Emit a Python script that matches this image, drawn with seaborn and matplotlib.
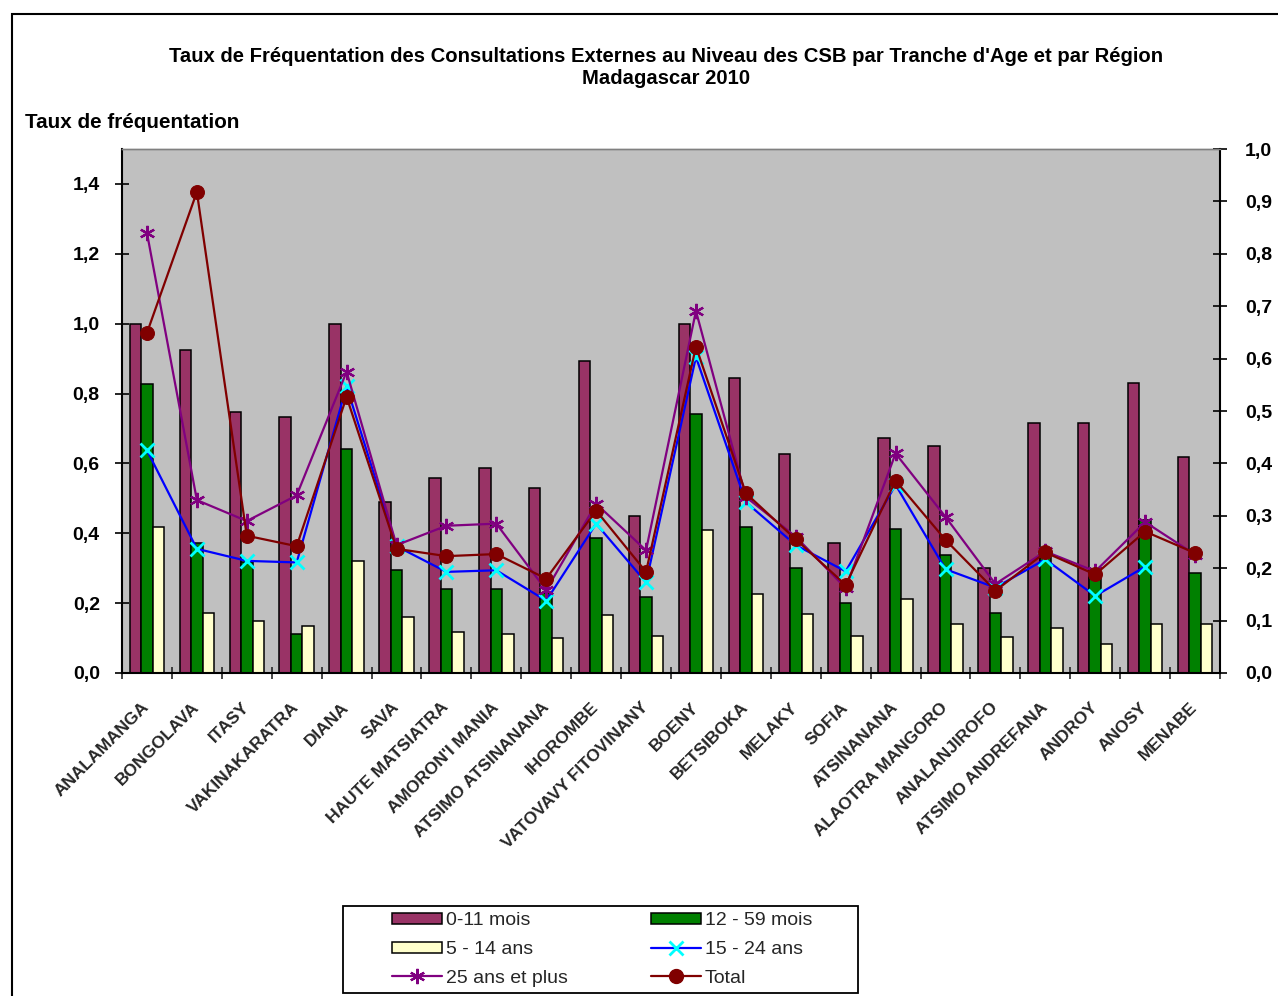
import numpy as np
import pandas as pd
import matplotlib
matplotlib.use("Agg")
import matplotlib.pyplot as plt
import seaborn as sns
from matplotlib.ticker import FuncFormatter, FixedLocator
from matplotlib.patches import Rectangle, Patch
from matplotlib.lines import Line2D

regions = ["ANALAMANGA", "BONGOLAVA", "ITASY", "VAKINAKARATRA", "DIANA", "SAVA",
           "HAUTE MATSIATRA", "AMORON'I MANIA", "ATSIMO ATSINANANA", "IHOROMBE",
           "VATOVAVY FITOVINANY", "BOENY", "BETSIBOKA", "MELAKY", "SOFIA", "ATSINANANA",
           "ALAOTRA MANGORO", "ANALANJIROFO", "ATSIMO ANDREFANA", "ANDROY", "ANOSY", "MENABE"]

m0_11 = [1.00, 0.925, 0.747, 0.732, 1.00, 0.49, 0.559, 0.587, 0.531, 0.893, 0.45,
         1.00, 0.844, 0.628, 0.371, 0.673, 0.651, 0.301, 0.716, 0.716, 0.829, 0.618]
m12_59 = [0.828, 0.371, 0.317, 0.112, 0.64, 0.294, 0.24, 0.24, 0.23, 0.386, 0.218,
          0.742, 0.419, 0.30, 0.201, 0.413, 0.338, 0.173, 0.331, 0.274, 0.439, 0.286]
a5_14 = [0.419, 0.171, 0.148, 0.134, 0.322, 0.16, 0.116, 0.112, 0.101, 0.165, 0.107,
         0.408, 0.225, 0.17, 0.107, 0.213, 0.139, 0.104, 0.129, 0.082, 0.141, 0.141]
a15_24 = [0.425, 0.237, 0.214, 0.211, 0.547, 0.242, 0.193, 0.196, 0.138, 0.285, 0.173,
          0.603, 0.326, 0.244, 0.194, 0.359, 0.198, 0.163, 0.217, 0.147, 0.203, np.nan]
a25p = [0.84, 0.33, 0.29, 0.339, 0.575, 0.244, 0.281, 0.285, 0.158, 0.323, 0.234,
        0.691, 0.336, 0.26, 0.162, 0.419, 0.298, 0.17, 0.232, 0.194, 0.288, 0.226]
total = [0.649, 0.918, 0.262, 0.242, 0.527, 0.237, 0.223, 0.227, 0.18, 0.31, 0.193,
         0.623, 0.343, 0.255, 0.168, 0.367, 0.254, 0.157, 0.23, 0.188, 0.27, 0.229]

bar_series = ["0-11 mois", "12 - 59 mois", "5 - 14 ans"]
line_series = ["15 - 24 ans", "25 ans et plus", "Total"]
title_l1 = "Taux de Fréquentation des Consultations Externes au Niveau des CSB par Tranche d'Age et par Région"
title_l2 = "Madagascar 2010"
ylabel = "Taux de fréquentation"
left_ticks = [0.0, 0.2, 0.4, 0.6, 0.8, 1.0, 1.2, 1.4]
right_ticks = [0.0, 0.1, 0.2, 0.3, 0.4, 0.5, 0.6, 0.7, 0.8, 0.9, 1.0]

bar_colors = ["#993366", "#008000", "#FFFFCC"]

sns.set_theme(style="white")
plt.rcParams['font.family'] = ['Liberation Sans', 'DejaVu Sans']

W, H = 1278, 996
fig = plt.figure(figsize=(W / 100, H / 100), dpi=100)
ax = fig.add_axes([122 / W, 1 - 673 / H, (1220 - 122) / W, (673 - 149) / H])

df = pd.DataFrame({
    "Région": regions * 3,
    "Tranche": [bar_series[0]] * len(regions) + [bar_series[1]] * len(regions) + [bar_series[2]] * len(regions),
    "Taux": m0_11 + m12_59 + a5_14,
})
sns.barplot(data=df, x="Région", y="Taux", hue="Tranche", hue_order=bar_series,
            palette=bar_colors, width=0.69, edgecolor="black", linewidth=1.1,
            saturation=1, errorbar=None, legend=False, ax=ax)

ax.set_facecolor("#C0C0C0")
ax.set_ylim(0, 1.5)
ax.set_xlabel("")
ax.set_ylabel("")

ax2 = ax.twinx()
xpos = np.arange(len(regions))
sns.lineplot(x=xpos, y=a15_24, ax=ax2, color="#0000FF", lw=1.6, marker="x",
             markersize=10, markeredgecolor="#00FFFF", markeredgewidth=2.0, sort=False)
sns.lineplot(x=xpos, y=a25p, ax=ax2, color="#800080", lw=1.6, marker=(6, 2, 0),
             markersize=11, markeredgecolor="#800080", markeredgewidth=1.6, sort=False)
sns.lineplot(x=xpos, y=total, ax=ax2, color="#800000", lw=1.6, marker="o",
             markersize=10, markeredgecolor="#800000", markerfacecolor="#800000", sort=False)
ax2.set_ylim(0, 1.0)
ax2.set_xlim(-0.5, len(regions) - 0.5)
ax.set_xlim(-0.5, len(regions) - 0.5)
ax2.set_xlabel("")
ax2.set_ylabel("")

fmt = FuncFormatter(lambda v, p: f"{v:.1f}".replace(".", ","))
ax.yaxis.set_major_locator(FixedLocator(left_ticks))
ax.yaxis.set_major_formatter(fmt)
ax2.yaxis.set_major_locator(FixedLocator(right_ticks))
ax2.yaxis.set_major_formatter(fmt)

ax.tick_params(axis="y", which="major", left=True, direction="inout", length=10, width=1.2,
               pad=11, labelsize=14, colors="black")
ax2.tick_params(axis="y", which="major", right=True, direction="inout", length=10, width=1.2,
                pad=13, labelsize=14, colors="black")
for lab in ax.get_yticklabels() + ax2.get_yticklabels():
    lab.set_fontweight("bold")

ax.set_xticks(xpos)
ax.set_xticklabels(regions)
ax.xaxis.set_minor_locator(FixedLocator(np.arange(-0.5, len(regions), 1.0)))
ax.tick_params(axis="x", which="major", bottom=True, length=0, pad=23, labelsize=12.5)
ax.tick_params(axis="x", which="minor", bottom=True, direction="inout", length=8, width=1.2)
for lab in ax.get_xticklabels():
    lab.set_rotation(45)
    lab.set_ha("right")
    lab.set_va("center")
    lab.set_rotation_mode("anchor")
    lab.set_fontweight("bold")
ax2.tick_params(axis="x", which="both", bottom=False, top=False, labelbottom=False)

for a in (ax, ax2):
    a.spines["top"].set_color("#808080")
    a.spines["top"].set_linewidth(1.0)
ax.spines["left"].set_color("black"); ax.spines["left"].set_linewidth(1.5)
ax.spines["bottom"].set_color("black"); ax.spines["bottom"].set_linewidth(1.5)
ax.spines["right"].set_visible(False)
ax2.spines["right"].set_color("black"); ax2.spines["right"].set_linewidth(1.5)
ax2.spines["left"].set_visible(False)
ax2.spines["bottom"].set_visible(False)

# Titles, fitted to the reference widths
fig.canvas.draw()
renderer = fig.canvas.get_renderer()

def fitted_text(x, y, s, target_w, ha="center", size=12):
    t = fig.text(x / W, 1 - y / H, s, ha=ha, va="center", fontsize=size, fontweight="bold", color="black")
    w = t.get_window_extent(renderer).width
    t.set_fontsize(size * target_w / w)
    return t

t1 = fitted_text(666.5, 57, title_l1, 989)
t2 = fig.text(666.5 / W, 1 - 79 / H, title_l2, ha="center", va="center", fontweight="bold", color="black")
t2.set_fontsize(t1.get_fontsize())
fitted_text(25, 122, ylabel, 213, ha="left")

# Legend
handles = [Patch(facecolor=bar_colors[0], edgecolor="black", linewidth=1.1),
           Patch(facecolor=bar_colors[2], edgecolor="black", linewidth=1.1),
           Line2D([], [], color="#800080", lw=1.6, marker=(6, 2, 0), markersize=11, markeredgecolor="#800080", markeredgewidth=1.6),
           Patch(facecolor=bar_colors[1], edgecolor="black", linewidth=1.1),
           Line2D([], [], color="#0000FF", lw=1.6, marker="x", markersize=10, markeredgecolor="#00FFFF", markeredgewidth=2.0),
           Line2D([], [], color="#800000", lw=1.6, marker="o", markersize=10, markeredgecolor="#800000", markerfacecolor="#800000")]
labels = [bar_series[0], bar_series[2], line_series[1], bar_series[1], line_series[0], line_series[2]]
fig.legend(handles, labels, loc="center", bbox_to_anchor=(602 / W, 1 - 949.5 / H), ncol=2,
           frameon=False, fontsize=14, handlelength=2.58, handleheight=0.5, handletextpad=0.2,
           columnspacing=4.3, labelspacing=0.6, borderpad=0.2)
fig.add_artist(Rectangle((343 / W, 1 - 993 / H), (858 - 343) / W, (993 - 906) / H,
                         transform=fig.transFigure, fill=False, edgecolor="black", linewidth=1.3))

# Outer chart border (partially cropped in the reference)
fig.add_artist(Rectangle((12 / W, -0.2), 1.2, 1.2 - 14 / H, transform=fig.transFigure,
                         fill=False, edgecolor="black", linewidth=1.5, clip_on=False))

fig.savefig("out.png", dpi=100)
